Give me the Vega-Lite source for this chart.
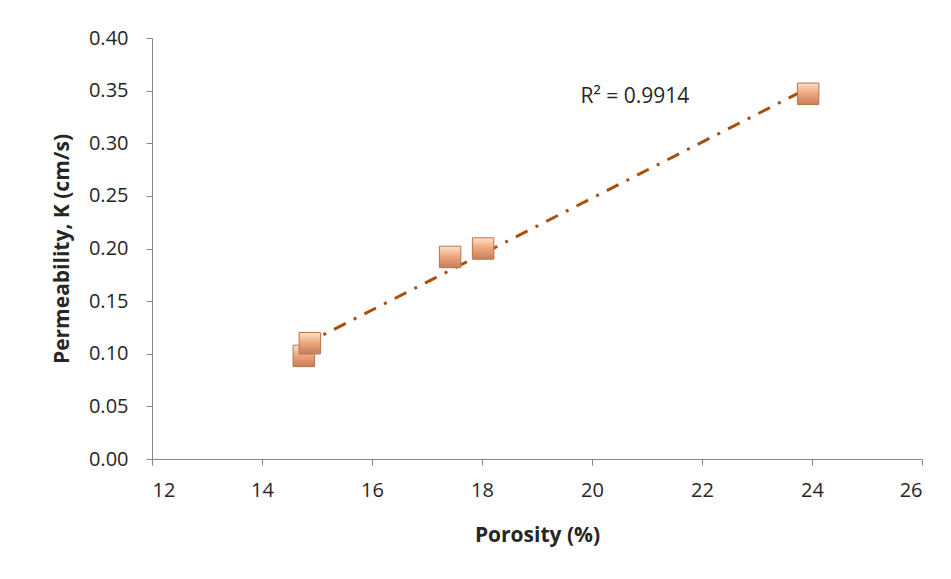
{
  "$schema": "https://vega.github.io/schema/vega-lite/v6.json",
  "width": 770,
  "height": 421,
  "autosize": {"type": "none"},
  "padding": {"left": 152, "top": 38, "right": 29, "bottom": 120},
  "background": "white",
  "config": {
    "view": {"stroke": null},
    "font": "Open Sans",
    "axis": {
      "grid": false,
      "domainColor": "#868686",
      "tickColor": "#868686",
      "tickSize": 6,
      "labelFont": "Open Sans",
      "labelFontSize": 20,
      "labelColor": "#262626",
      "titleFont": "Open Sans",
      "titleFontSize": 21,
      "titleFontWeight": "bold",
      "titleColor": "#262626"
    }
  },
  "datasets": {
    "pts": [
      {"porosity": 14.76, "k": 0.098},
      {"porosity": 14.87, "k": 0.110},
      {"porosity": 17.42, "k": 0.192},
      {"porosity": 18.02, "k": 0.200},
      {"porosity": 23.93, "k": 0.347}
    ],
    "lbl": [{"porosity": 20.78, "k": 0.344, "t": "R² = 0.9914"}]
  },
  "layer": [
    {
      "data": {"name": "pts"},
      "transform": [{"regression": "k", "on": "porosity"}],
      "mark": {"type": "line", "color": "#A5500F", "strokeWidth": 3, "strokeDash": [13, 9, 3, 9], "strokeCap": "butt"},
      "encoding": {
        "x": {"field": "porosity", "type": "quantitative", "scale": {"domain": [12, 26], "nice": false, "zero": false},
          "axis": {"values": [12, 14, 16, 18, 20, 22, 24, 26], "format": "d", "title": "Porosity (%)", "labelPadding": 15, "titlePadding": 24}},
        "y": {"field": "k", "type": "quantitative", "scale": {"domain": [0, 0.4], "nice": false},
          "axis": {"values": [0, 0.05, 0.1, 0.15, 0.2, 0.25, 0.3, 0.35, 0.4], "format": ".2f", "title": "Permeability, K (cm/s)", "labelPadding": 18, "titlePadding": 16}}
      }
    },
    {
      "data": {"name": "pts"},
      "mark": {"type": "point", "shape": "square", "size": 460, "filled": true, "opacity": 1,
        "fill": {"gradient": "linear", "x1": 0, "y1": 0, "x2": 0, "y2": 1,
          "stops": [{"offset": 0, "color": "#FCE2C6"}, {"offset": 0.5, "color": "#EBA57E"}, {"offset": 1, "color": "#C97E58"}]},
        "stroke": "#B8744F", "strokeWidth": 1},
      "encoding": {
        "x": {"field": "porosity", "type": "quantitative"},
        "y": {"field": "k", "type": "quantitative"}
      }
    },
    {
      "data": {"name": "lbl"},
      "mark": {"type": "text", "fontSize": 21, "font": "Open Sans", "color": "#262626", "align": "center", "baseline": "middle"},
      "encoding": {
        "x": {"field": "porosity", "type": "quantitative"},
        "y": {"field": "k", "type": "quantitative"},
        "text": {"field": "t"}
      }
    }
  ]
}
